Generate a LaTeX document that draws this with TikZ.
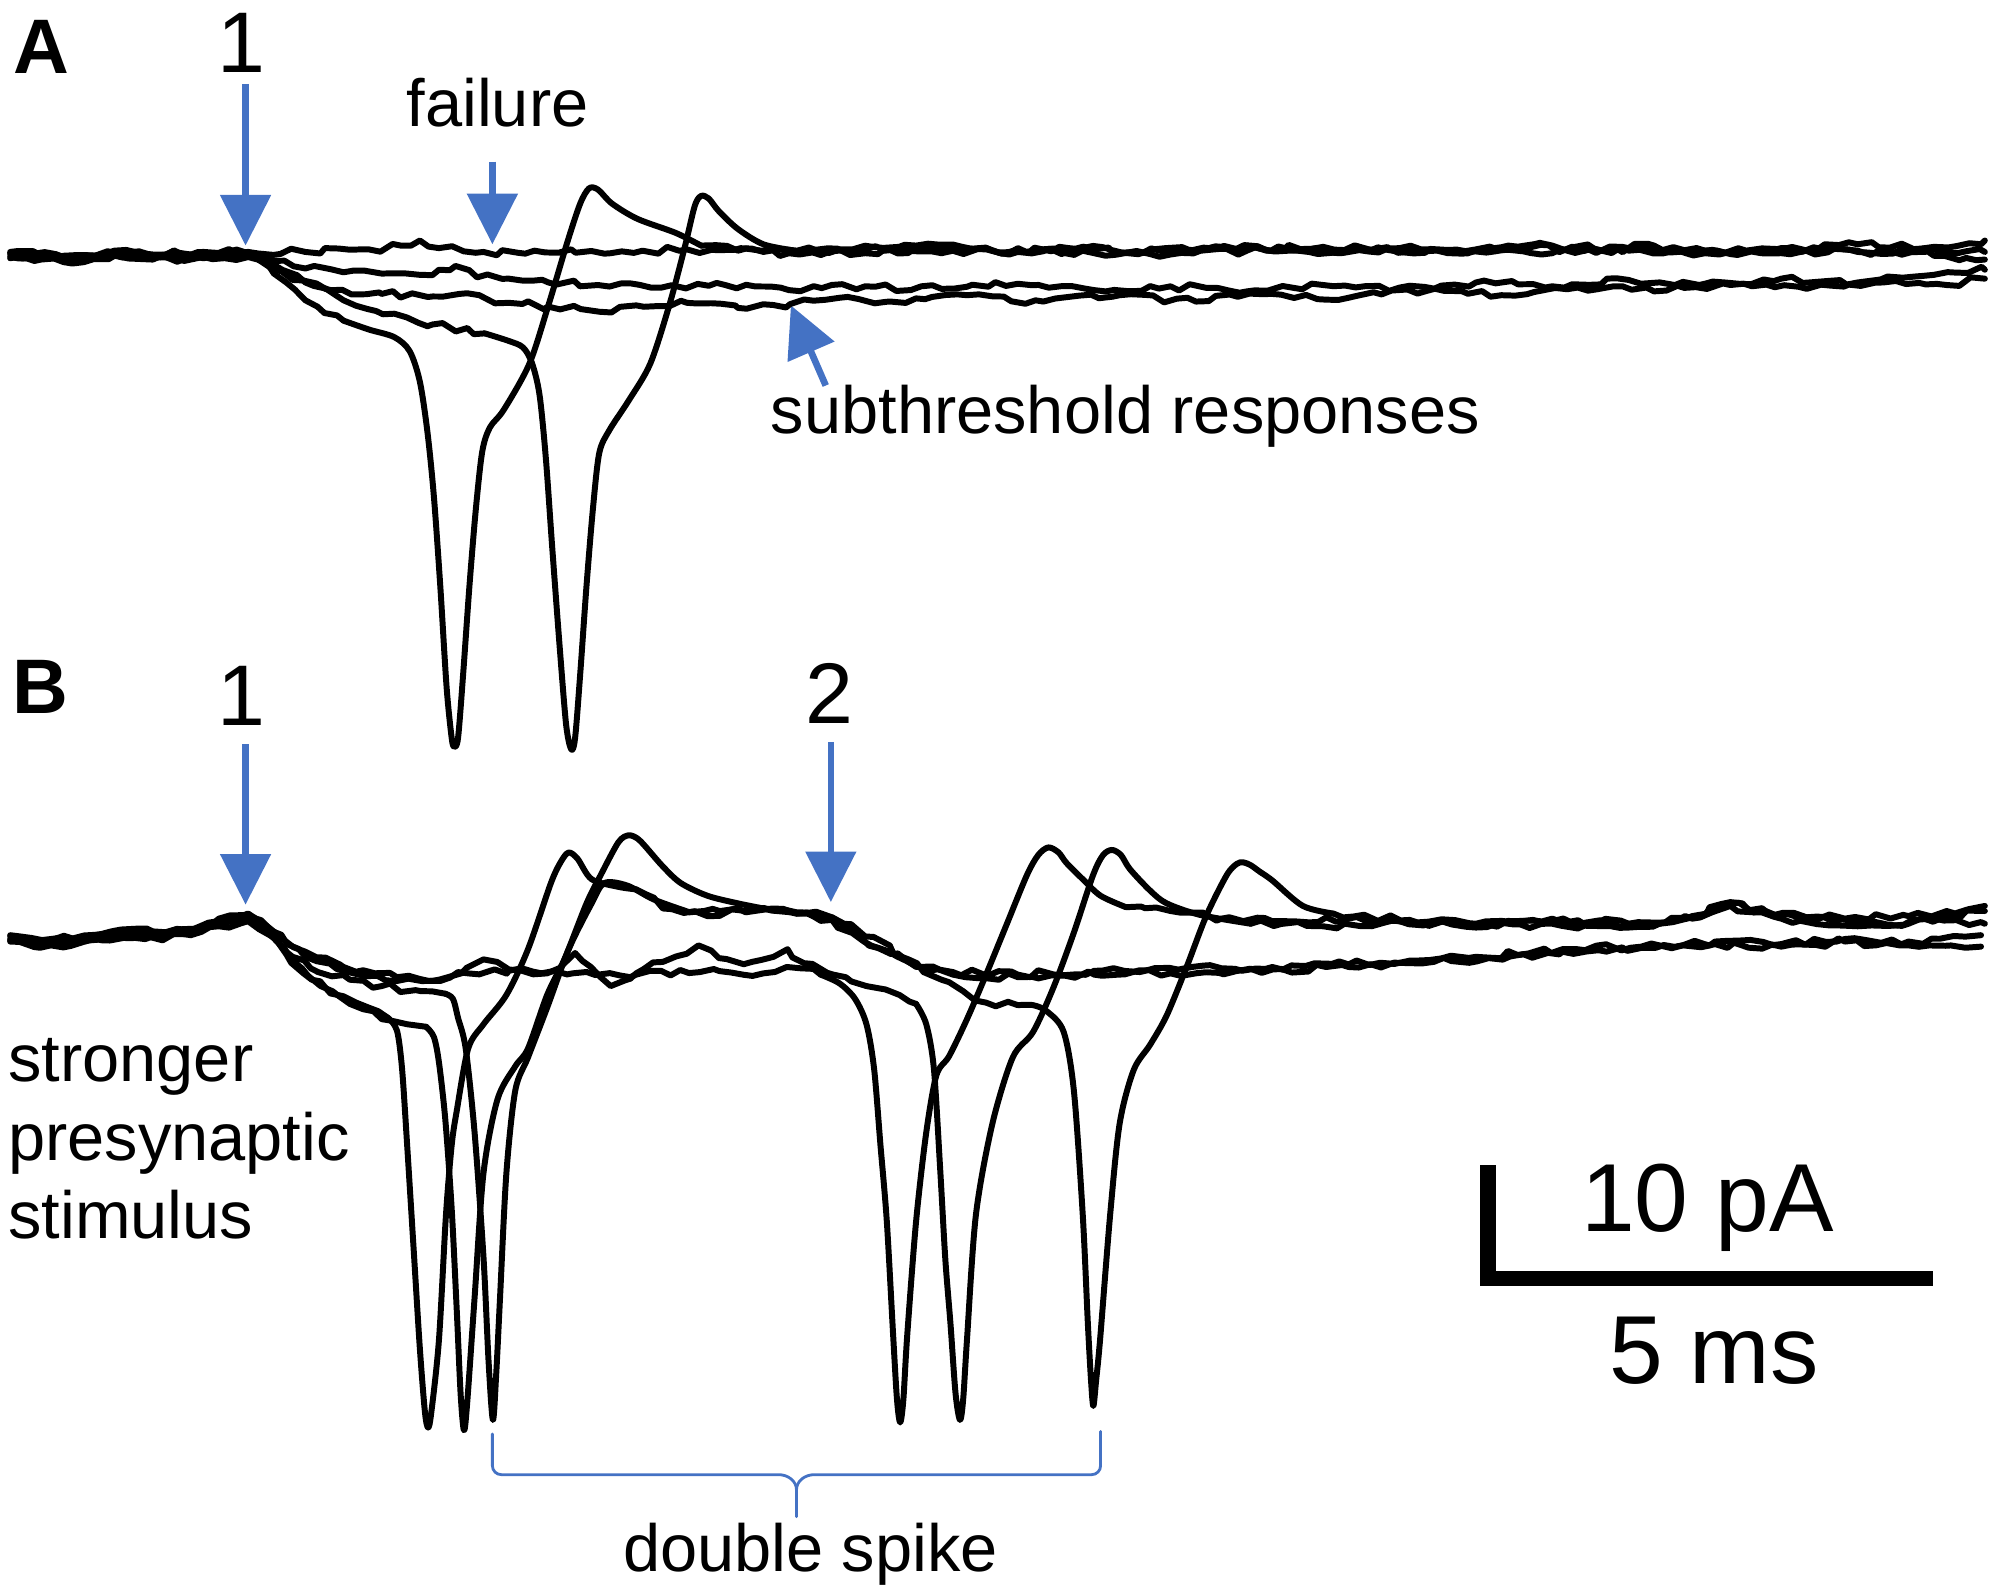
\documentclass[tikz,border=0pt]{standalone}
\usepackage{fontspec}
\setmainfont{Liberation Sans}
\usetikzlibrary{arrows.meta,decorations.pathmorphing}
\definecolor{arrblue}{RGB}{68,114,196}
\tikzset{
  tr/.style={line width=1.7pt, line cap=round, line join=round},
  noisy/.style={tr, decorate, decoration={random steps, segment length=3.2pt, amplitude=1.05pt}},
  arr/.style={draw=arrblue, line width=1.9pt, -{Triangle[length=14.4pt,width=14.1pt]}},
  lbl/.style={font=\fontsize{19}{22}\selectfont, inner sep=0pt},
  num/.style={font=\fontsize{24.5}{29}\selectfont, inner sep=0pt},
  panel/.style={font=\fontsize{22}{26}\selectfont\bfseries, inner sep=0pt, anchor=base west},
  sbar/.style={font=\fontsize{27.5}{32}\selectfont, inner sep=0pt},
  brace/.style={draw=arrblue, line width=0.8pt, line cap=round},
}
\begin{document}
\begin{tikzpicture}[x=0.012723cm, y=-0.012723cm]
\pgfmathsetseed{3}
\useasboundingbox (0,0) rectangle (1568,1252);

% ---------------- labels ----------------
\node[panel] (labA) at (10,57.6) {A};
\node[panel] (labB) at (9,561) {B};
\node[num, anchor=base] (oneA) at (190,57) {1};
\node[num, anchor=base] (oneB) at (190,570) {1};
\node[num, anchor=base] (twoB) at (652,569) {2};
\node[lbl, anchor=base] (fail) at (391,99.6) {failure};
\node[lbl, anchor=base] (subt) at (884.5,341) {subthreshold responses};
\node[lbl, anchor=base west] (str1) at (6,850) {stronger};
\node[lbl, anchor=base west] (str2) at (6,912) {presynaptic};
\node[lbl, anchor=base west] (str3) at (6,973) {stimulus};
\node[sbar, anchor=base] (tenpA) at (1342,968) {10 pA};
\node[sbar, anchor=base] (fivems) at (1347,1087) {5 ms};
\node[lbl, anchor=base] (dbl) at (637,1235) {double spike};

% ---------------- arrows ----------------
\coordinate (a1s) at (193,66);   \coordinate (a1t) at (193,193);
\coordinate (afs) at (387,127);  \coordinate (aft) at (387,192);
\coordinate (ass) at (649,303);  \coordinate (ast) at (621.6,240);
\coordinate (b1s) at (193,585);  \coordinate (b1t) at (193,711);
\coordinate (b2s) at (653,583);  \coordinate (b2t) at (653,709);
\draw[arr] (a1s) -- (a1t);
\draw[arr] (afs) -- (aft);
\draw[arr] (ass) -- (ast);
\draw[arr] (b1s) -- (b1t);
\draw[arr] (b2s) -- (b2t);

% ---------------- scale bar ----------------
\coordinate (sbt) at (1169.5,916);
\coordinate (sbc) at (1169.5,1004.5);
\coordinate (sbr) at (1519,1004.5);
\draw[line width=4.3pt, line join=miter] (sbt) -- (sbc) -- (sbr);

% ---------------- brace ----------------
\coordinate (brl) at (387,1127);
\coordinate (brr) at (865,1125);
\coordinate (brm) at (626,1192);
\draw[brace] (brl) -- (387,1152) to[out=-90,in=180] (394,1159) -- (612,1159)
  to[out=0,in=90] (626,1171) -- (brm);
\draw[brace] (626,1171) to[out=90,in=180] (640,1159) -- (858,1159)
  to[out=0,in=-90] (865,1152) -- (brr);

% ================= PANEL A traces =================
% A1 (failure, top)
\draw[noisy] plot coordinates {(8,198) (50,201) (90,197) (120,200) (160,198) (195,198) (240,198) (290,196) (315,193) (330,189) (345,195) (380,198) (420,197) (480,199) (540,196) (600,198) (660,196) (720,193) (780,197) (840,195) (900,198) (960,194) (1020,197) (1080,196) (1140,199) (1200,195) (1260,197) (1300,193) (1340,197) (1400,196) (1460,192) (1520,194) (1560,189)};
% A2 (subthreshold)
\draw[noisy] plot coordinates {(8,200) (50,203) (90,199) (120,202) (160,200) (195,200) (215,205) (240,211) (270,214) (300,215) (330,216) (345,212) (358,209) (375,218) (400,219) (431,222) (470,224) (520,226) (570,224) (620,228) (680,225) (740,227) (800,223) (860,228) (920,225) (980,229) (1040,224) (1100,226) (1160,222) (1220,225) (1280,220) (1340,223) (1400,219) (1460,222) (1520,216) (1560,212)};
% A3 (subthreshold)
\draw[noisy] plot coordinates {(8,202) (50,204) (90,200) (120,203) (160,202) (195,201) (212,210) (230,220) (260,228) (300,231) (340,233) (361,231) (400,238) (431,241) (471,245) (500,240) (540,238) (580,242) (621,239) (660,234) (700,237) (760,232) (820,237) (880,232) (940,237) (1000,231) (1060,234) (1120,229) (1180,232) (1240,226) (1300,229) (1360,224) (1420,227) (1480,222) (1530,224) (1560,219)};
% S1 (spike, trough 357)
\draw[noisy] plot coordinates {(8,203) (50,206) (90,201) (120,204) (160,203) (195,202) (210,207) (225,222) (240,236) (255,246) (270,252)};
\draw[tr] plot[smooth, tension=0.5] coordinates {(270,252) (290,259) (310,265) (322,276) (330,300) (336,340) (341,390) (346,460) (351,540) (355,580) (357,587) (360,580) (364,530) (369,460) (374,400) (379,355) (385,336) (396,322) (416,286) (431,240) (446,190) (456,160) (463,148) (470,149) (481,160) (501,172) (531,183) (551,193)};
\draw[noisy] plot coordinates {(551,193) (580,197) (620,199) (680,196) (740,199) (800,195) (860,199) (920,197) (980,193) (1040,198) (1100,195) (1160,197) (1220,193) (1280,197) (1340,199) (1400,195) (1460,197) (1520,201) (1560,204)};
% S2 (spike, trough 449)
\draw[noisy] plot coordinates {(8,199) (50,202) (90,198) (120,201) (160,199) (195,199) (215,208) (240,222) (270,236) (301,247) (340,255) (381,262)};
\draw[tr] plot[smooth, tension=0.5] coordinates {(381,262) (400,268) (411,273) (418,285) (424,310) (429,360) (434,430) (440,510) (445,570) (449,589) (452,580) (456,530) (461,460) (466,400) (471,356) (479,338) (494,315) (511,286) (526,240) (538,195) (546,162) (551,154) (557,156) (565,166) (580,180) (600,192) (625,197)};
\draw[noisy] plot coordinates {(625,197) (680,199) (740,195) (800,198) (860,196) (920,200) (980,197) (1040,194) (1100,198) (1160,196) (1220,199) (1280,195) (1340,197) (1400,199) (1460,198) (1520,196) (1560,198)};

% ================= PANEL B traces =================
% N1 -> second-group spike (trough 707)
\draw[noisy] plot coordinates {(8,736) (40,739) (80,735) (120,733) (150,731) (172,724) (195,720) (210,728) (240,748) (270,760) (312,768) (337,771) (360,764) (400,763) (450,765) (500,766) (550,764) (600,765) (629,761) (645,766)};
\draw[tr] plot[smooth, tension=0.5] coordinates {(645,766) (660,773) (672,785) (681,805) (687,840) (692,900) (697,960) (702,1050) (705,1100) (707.5,1118) (710,1100) (713,1050) (720,960) (728,890) (736,845) (746,830) (760,801) (775,766) (791,727) (807,688) (816,672) (824,666) (832,670) (838,678) (851,691) (865,704) (885,713)};
\draw[noisy] plot coordinates {(885,713) (920,716) (960,722) (1000,724) (1060,722) (1108,725) (1160,727) (1220,724) (1280,726) (1330,720) (1360,709) (1390,718) (1440,724) (1500,726) (1530,720) (1560,716)};
% N2 -> second-group spike (trough 754)
\draw[noisy] plot coordinates {(8,739) (40,742) (80,738) (120,736) (150,734) (172,727) (195,723) (212,731) (240,752) (270,763) (312,771) (345,770) (380,754) (400,762) (430,765) (452,749) (472,768) (480,775) (500,765) (521,756) (549,743) (565,753) (591,756) (608,752) (619,746) (632,757) (655,766) (681,775) (707,782) (720,789)};
\draw[tr] plot[smooth, tension=0.5] coordinates {(720,789) (728,805) (734,840) (739,920) (743,990) (747,1040) (751,1095) (754.5,1116) (757,1100) (760,1053) (767,955) (780,883) (796,831) (812,811) (828,776) (844,733) (859,688) (867,672) (874,668) (881,672) (888,683) (904,700) (917,710) (943,719) (983,726)};
\draw[noisy] plot coordinates {(983,726) (1040,728) (1100,724) (1160,729) (1220,726) (1280,729) (1330,722) (1360,712) (1400,722) (1460,728) (1520,722) (1560,726)};
% T1 (first-group spike, trough 336)
\draw[noisy] plot coordinates {(8,735) (40,738) (80,734) (120,732) (150,730) (172,722) (195,718) (210,728) (225,750) (245,770) (270,783) (290,792) (305,800)};
\draw[tr] plot[smooth, tension=0.5] coordinates {(305,800) (312,810) (316,840) (320,900) (325,980) (330,1060) (334,1110) (336.5,1122) (339,1110) (345,1053) (350.5,955) (355,900) (359,873) (368,824) (380,805) (398,782) (415,746) (433,694) (441,677) (447,670) (454,675) (465,691) (486,697) (500,699)};
\draw[noisy] plot coordinates {(500,699) (521,714) (556,720) (591,715) (626,717) (654,721) (668,730) (690,745) (714,756) (749,764) (800,766) (860,763) (900,763) (960,761) (1000,760) (1060,758) (1108,755) (1160,752) (1228,746) (1290,744) (1348,740) (1400,742) (1450,738) (1500,740) (1557,735)};
% T2 (first-group spike, trough 365)
\draw[noisy] plot coordinates {(8,738) (40,741) (80,737) (120,735) (150,733) (172,725) (195,721) (212,734) (230,755) (252,775) (275,789) (300,801) (320,805) (335,807)};
\draw[tr] plot[smooth, tension=0.5] coordinates {(335,807) (341,815) (345,835) (350,880) (355,950) (359,1030) (362,1095) (364.6,1124) (367,1105) (373,1020) (380,922) (391,864) (405,838) (415,824) (430,782) (444,753) (461,710) (472,688) (486,662) (494,656.5) (501,659) (507,665) (521,681) (535,694) (556,704) (580,710) (600,714)};
\draw[noisy] plot coordinates {(600,714) (626,718) (654,723) (679,740) (714,756) (749,766) (800,768) (860,766) (920,765) (1000,762) (1060,760) (1108,757) (1170,753) (1228,748) (1290,745) (1348,742) (1400,744) (1450,740) (1500,743) (1557,744)};
% T3 (double spike: troughs 387 and 859)
\draw[noisy] plot coordinates {(8,740) (40,743) (80,739) (120,737) (150,735) (172,728) (195,724) (212,735) (230,752) (250,764) (275,770) (300,775) (331,779) (350,781)};
\draw[tr] plot[smooth, tension=0.5] coordinates {(350,781) (356,785) (360,800) (366,824) (373,890) (380,988) (384,1070) (387.4,1116) (390,1080) (393,1020) (398,922) (405,857) (415,831) (430,792) (447,746) (465,710) (475,694) (493,696) (514,707) (542,717)};
\draw[noisy] plot coordinates {(542,717) (580,714) (626,718) (654,721) (680,736) (714,754) (740,770) (757,779) (775,788) (800,790)};
\draw[tr] plot[smooth, tension=0.5] coordinates {(800,790) (812,790) (823,795) (836,811) (844,857) (851,955) (855,1040) (857.5,1085) (859.3,1105) (861.5,1085) (864.6,1053) (872.5,955) (880,883) (891,841) (904,821) (917,798) (933,759) (948,720) (964,688) (972,679) (977,677.7) (983,680) (990,685) (1000,692) (1024,712) (1048,718)};
\draw[noisy] plot coordinates {(1048,718) (1108,723) (1160,726) (1220,722) (1280,726) (1330,721) (1360,710) (1395,719) (1450,722) (1500,720) (1530,716) (1560,712)};
\end{tikzpicture}
\end{document}
